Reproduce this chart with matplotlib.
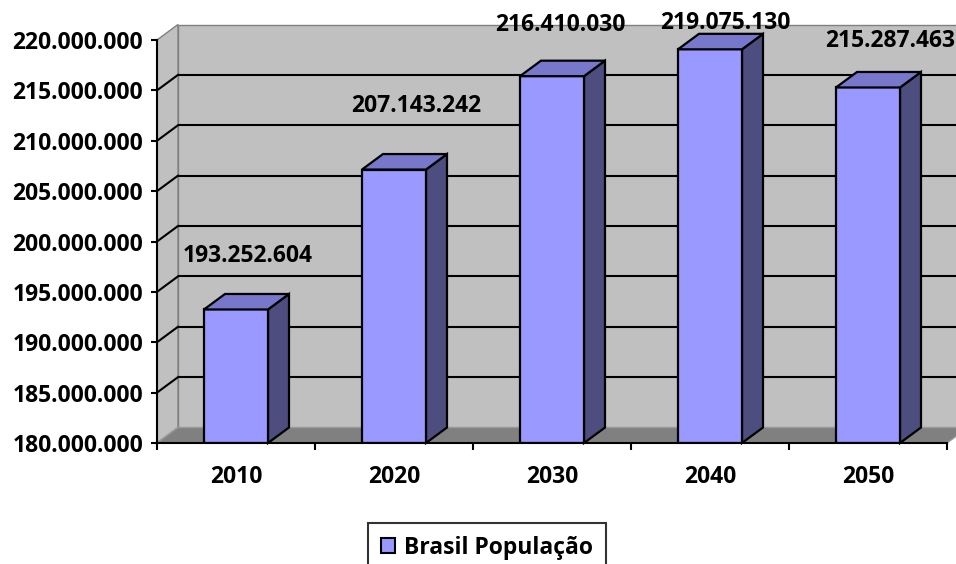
import matplotlib
matplotlib.use("Agg")
import matplotlib.pyplot as plt
import matplotlib.ticker as mticker
from matplotlib.patches import Polygon, Rectangle, Patch
import numpy as np

plt.rcParams['font.family'] = ['Open Sans', 'DejaVu Sans']
plt.rcParams['font.weight'] = 'bold'

# ── Data ──────────────────────────────────────────────────────────────────────
years = ["2010", "2020", "2030", "2040", "2050"]
populacao = [193252604, 207143242, 216410030, 219075130, 215287463]
serie = "Brasil População"

y_min, y_max, y_step = 180_000_000, 220_000_000, 5_000_000

# ── Colors ────────────────────────────────────────────────────────────────────
WALL = "#c0c0c0"
FLOOR = "#808080"
EDGE_GRAY = "#808080"
FRONT = "#9999ff"
SIDE = "#4d4d80"
TOP = "#7777cc"

# label nudges in pixels (right, up) relative to the bar's front top
label_shift = [(12, 53), (22, 64), (8, 51), (15, 26), (22, 46)]

FS = 16.5

def fmt_br(v, _=None):
    return f"{v:,.0f}".replace(",", ".")

# ── Figure / axes ─────────────────────────────────────────────────────────────
W, H = 956, 564
fig = plt.figure(figsize=(W / 100, H / 100), dpi=100, facecolor="white")
ax = fig.add_axes([157 / W, (H - 443) / H, 790 / W, 403 / H])
ax.set_facecolor("none")

n = len(years)
x = np.arange(n)
ax.set_xlim(-0.5, n - 0.5)
ax.set_ylim(y_min, y_max)

# 3-D depth offsets in data units
px_x = n / 790
px_y = (y_max - y_min) / 403
dx = 21 * px_x
dy = 15.5 * px_y

x0, x1 = -0.5, n - 0.5

# back wall
ax.add_patch(Rectangle((x0 + dx, y_min + dy), (x1 - x0) + 1, y_max - y_min,
                       facecolor=WALL, edgecolor=EDGE_GRAY, lw=1.0,
                       zorder=0.5, clip_on=False))
# side wall
ax.add_patch(Polygon([(x0, y_min), (x0 + dx, y_min + dy),
                      (x0 + dx, y_max + dy), (x0, y_max)],
                     closed=True, facecolor=WALL, edgecolor=EDGE_GRAY,
                     lw=1.0, zorder=0.6, clip_on=False))
# floor
ax.add_patch(Polygon([(x0, y_min), (x1, y_min), (x1 + dx, y_min + dy),
                      (x0 + dx, y_min + dy)],
                     closed=True, facecolor=FLOOR, edgecolor="#9a9a9a",
                     lw=1.0, zorder=0.7, clip_on=False))

# gridlines on back and side walls
for v in np.arange(y_min + y_step, y_max, y_step):
    ax.plot([x0 + dx, x1 + 1], [v + dy, v + dy], color="black", lw=1.5,
            zorder=0.8, clip_on=False, solid_capstyle="butt")
    ax.plot([x0, x0 + dx], [v, v + dy], color="black", lw=1.5,
            zorder=0.8, clip_on=False)

# ── Bars ──────────────────────────────────────────────────────────────────────
bw = 64 / 158
bars = ax.bar(x, [v - y_min for v in populacao], bottom=y_min, width=bw,
              color=FRONT, edgecolor="black", lw=1.6, zorder=3)

for xi, v in zip(x, populacao):
    l, r = xi - bw / 2, xi + bw / 2
    ax.add_patch(Polygon([(r, y_min), (r + dx, y_min + dy), (r + dx, v + dy),
                          (r, v)], closed=True, facecolor=SIDE,
                         edgecolor="black", lw=1.6, zorder=2.9,
                         clip_on=False))
    ax.add_patch(Polygon([(l, v), (r, v), (r + dx, v + dy), (l + dx, v + dy)],
                         closed=True, facecolor=TOP, edgecolor="black",
                         lw=1.6, zorder=3.1, clip_on=False))

# value labels
for xi, v, (sx, sy) in zip(x, populacao, label_shift):
    ax.annotate(fmt_br(v), xy=(xi, v), xytext=(sx * 0.72, sy * 0.72),
                textcoords="offset points", ha="center", va="center",
                fontsize=FS, fontweight="bold", color="black", zorder=6,
                annotation_clip=False)

# ── Axes styling ──────────────────────────────────────────────────────────────
for s in ("top", "right"):
    ax.spines[s].set_visible(False)
ax.spines["left"].set_linewidth(1.5)
ax.spines["bottom"].set_linewidth(1.5)
ax.spines["left"].set_zorder(4)
ax.spines["bottom"].set_zorder(4)

ax.set_yticks(np.arange(y_min, y_max + 1, y_step))
ax.yaxis.set_major_formatter(mticker.FuncFormatter(fmt_br))
ax.tick_params(axis="y", direction="out", length=4.5, width=1.5, pad=5.5,
               labelsize=FS)

ax.set_xticks(x)
ax.set_xticklabels(years)
ax.set_xticks(np.arange(x0, x1 + 0.01, 1), minor=True)
ax.tick_params(axis="x", which="major", length=0, pad=16, labelsize=FS)
ax.tick_params(axis="x", which="minor", direction="out", length=5, width=1.5)

for lbl in ax.get_xticklabels() + ax.get_yticklabels():
    lbl.set_fontweight("bold")

# ── Legend ────────────────────────────────────────────────────────────────────
leg = fig.legend(handles=[Patch(facecolor=FRONT, edgecolor="black", lw=1.5,
                                label=serie)],
                 loc="upper center", bbox_to_anchor=(487 / W, 1 - 523 / H),
                 frameon=True, fancybox=False, borderaxespad=0,
                 handlelength=0.62, handleheight=0.62, handletextpad=0.38,
                 borderpad=0.55, prop={"weight": "bold", "size": FS})
leg.get_frame().set_edgecolor("black")
leg.get_frame().set_linewidth(1.5)

fig.savefig("out.png", dpi=100, facecolor="white")
